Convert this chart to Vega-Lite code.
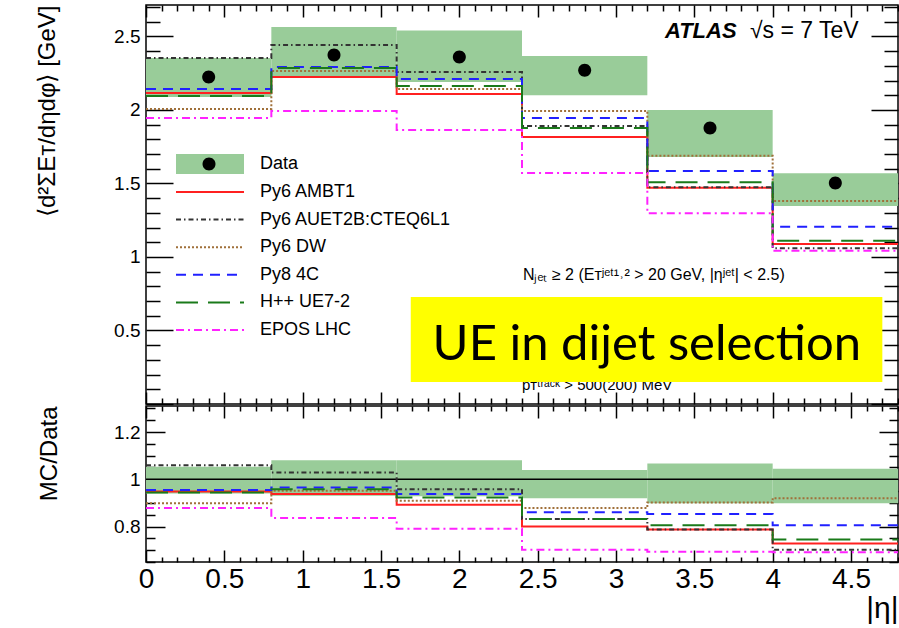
{
  "$schema": "https://vega.github.io/schema/vega-lite/v6.json",
  "padding": {"left": 34, "top": 3, "right": 0, "bottom": 0},
  "config": {
    "view": {"stroke": "black", "strokeWidth": 1.5},
    "axis": {"domain": false, "grid": false, "tickColor": "black", "tickWidth": 1.5, "labelFont": "Liberation Sans", "titleFont": "Liberation Sans", "labelColor": "black", "titleColor": "black", "titleFontWeight": "normal", "labelFlush": false, "labelOverlap": false},
    "legend": {"padding": 0, "labelFont": "Liberation Sans", "labelFontSize": 18, "labelColor": "black", "labelLimit": 0}
  },
  "datasets": {
    "band": [
      {"lo": 0.0, "hi": 0.8, "x": 0.4, "y": 2.224, "top": 2.354, "bot": 2.088, "rtop": 1.053, "rbot": 0.94},
      {"lo": 0.8, "hi": 1.6, "x": 1.2, "y": 2.374, "top": 2.565, "bot": 2.222, "rtop": 1.081, "rbot": 0.93},
      {"lo": 1.6, "hi": 2.4, "x": 2.0, "y": 2.36, "top": 2.54, "bot": 2.19, "rtop": 1.081, "rbot": 0.928},
      {"lo": 2.4, "hi": 3.2, "x": 2.8, "y": 2.27, "top": 2.367, "bot": 2.10, "rtop": 1.039, "rbot": 0.92},
      {"lo": 3.2, "hi": 4.0, "x": 3.6, "y": 1.878, "top": 2.0, "bot": 1.68, "rtop": 1.067, "rbot": 0.899},
      {"lo": 4.0, "hi": 4.8, "x": 4.4, "y": 1.503, "top": 1.569, "bot": 1.347, "rtop": 1.044, "rbot": 0.899}
    ],
    "mc": [
      {"m": "Py6 AMBT1", "lo": 0.0, "hi": 0.8, "v": 2.116, "r": 0.948},
      {"m": "Py6 AMBT1", "lo": 0.8, "hi": 1.6, "v": 2.224, "r": 0.938},
      {"m": "Py6 AMBT1", "lo": 1.6, "hi": 2.4, "v": 2.109, "r": 0.892},
      {"m": "Py6 AMBT1", "lo": 2.4, "hi": 3.2, "v": 1.816, "r": 0.80},
      {"m": "Py6 AMBT1", "lo": 3.2, "hi": 4.0, "v": 1.471, "r": 0.787},
      {"m": "Py6 AMBT1", "lo": 4.0, "hi": 4.8, "v": 1.088, "r": 0.728},
      {"m": "Py6 AUET2B:CTEQ6L1", "lo": 0.0, "hi": 0.8, "v": 2.354, "r": 1.059},
      {"m": "Py6 AUET2B:CTEQ6L1", "lo": 0.8, "hi": 1.6, "v": 2.442, "r": 1.029},
      {"m": "Py6 AUET2B:CTEQ6L1", "lo": 1.6, "hi": 2.4, "v": 2.259, "r": 0.958},
      {"m": "Py6 AUET2B:CTEQ6L1", "lo": 2.4, "hi": 3.2, "v": 1.891, "r": 0.832},
      {"m": "Py6 AUET2B:CTEQ6L1", "lo": 3.2, "hi": 4.0, "v": 1.475, "r": 0.787},
      {"m": "Py6 AUET2B:CTEQ6L1", "lo": 4.0, "hi": 4.8, "v": 1.06, "r": 0.702},
      {"m": "Py6 DW", "lo": 0.0, "hi": 0.8, "v": 2.007, "r": 0.899},
      {"m": "Py6 DW", "lo": 0.8, "hi": 1.6, "v": 2.265, "r": 0.951},
      {"m": "Py6 DW", "lo": 1.6, "hi": 2.4, "v": 2.143, "r": 0.909},
      {"m": "Py6 DW", "lo": 2.4, "hi": 3.2, "v": 1.993, "r": 0.878},
      {"m": "Py6 DW", "lo": 3.2, "hi": 4.0, "v": 1.689, "r": 0.902},
      {"m": "Py6 DW", "lo": 4.0, "hi": 4.8, "v": 1.381, "r": 0.92},
      {"m": "Py8 4C", "lo": 0.0, "hi": 0.8, "v": 2.143, "r": 0.955},
      {"m": "Py8 4C", "lo": 0.8, "hi": 1.6, "v": 2.293, "r": 0.965},
      {"m": "Py8 4C", "lo": 1.6, "hi": 2.4, "v": 2.211, "r": 0.938},
      {"m": "Py8 4C", "lo": 2.4, "hi": 3.2, "v": 1.946, "r": 0.86},
      {"m": "Py8 4C", "lo": 3.2, "hi": 4.0, "v": 1.585, "r": 0.853},
      {"m": "Py8 4C", "lo": 4.0, "hi": 4.8, "v": 1.206, "r": 0.805},
      {"m": "H++ UE7-2", "lo": 0.0, "hi": 0.8, "v": 2.095, "r": 0.944},
      {"m": "H++ UE7-2", "lo": 0.8, "hi": 1.6, "v": 2.286, "r": 0.958},
      {"m": "H++ UE7-2", "lo": 1.6, "hi": 2.4, "v": 2.163, "r": 0.923},
      {"m": "H++ UE7-2", "lo": 2.4, "hi": 3.2, "v": 1.878, "r": 0.832},
      {"m": "H++ UE7-2", "lo": 3.2, "hi": 4.0, "v": 1.508, "r": 0.805},
      {"m": "H++ UE7-2", "lo": 4.0, "hi": 4.8, "v": 1.111, "r": 0.745},
      {"m": "EPOS LHC", "lo": 0.0, "hi": 0.8, "v": 1.946, "r": 0.878},
      {"m": "EPOS LHC", "lo": 0.8, "hi": 1.6, "v": 1.993, "r": 0.836},
      {"m": "EPOS LHC", "lo": 1.6, "hi": 2.4, "v": 1.864, "r": 0.791},
      {"m": "EPOS LHC", "lo": 2.4, "hi": 3.2, "v": 1.571, "r": 0.702},
      {"m": "EPOS LHC", "lo": 3.2, "hi": 4.0, "v": 1.297, "r": 0.693},
      {"m": "EPOS LHC", "lo": 4.0, "hi": 4.8, "v": 1.043, "r": 0.691}
    ]
  },
  "spacing": -16,
  "resolve": {"scale": {"color": "independent", "strokeDash": "independent"}},
  "vconcat": [
    {
      "width": 752,
      "height": 399,
      "resolve": {"axis": {"x": "independent", "y": "independent"}},
      "layer": [
        {
          "data": {"name": "band"},
          "mark": {"type": "rect"},
          "encoding": {
            "x": {"field": "lo", "type": "quantitative", "scale": {"domain": [0, 4.8], "nice": false, "zero": false},
              "axis": {"orient": "bottom", "values": [0,0.1,0.2,0.3,0.4,0.5,0.6,0.7,0.8,0.9,1,1.1,1.2,1.3,1.4,1.5,1.6,1.7,1.8,1.9,2,2.1,2.2,2.3,2.4,2.5,2.6,2.7,2.8,2.9,3,3.1,3.2,3.3,3.4,3.5,3.6,3.7,3.8,3.9,4,4.1,4.2,4.3,4.4,4.5,4.6,4.7,4.8], "labels": false, "title": null,
                "tickSize": {"condition": {"test": "abs(datum.value*2-round(datum.value*2))<0.001", "value": -12}, "value": -6}}},
            "x2": {"field": "hi"},
            "y": {"field": "bot", "type": "quantitative", "scale": {"domain": [0, 2.714], "nice": false, "zero": false},
              "axis": {"orient": "left", "values": [0,0.1,0.2,0.3,0.4,0.5,0.6,0.7,0.8,0.9,1,1.1,1.2,1.3,1.4,1.5,1.6,1.7,1.8,1.9,2,2.1,2.2,2.3,2.4,2.5,2.6,2.7],
                "labelExpr": "abs(datum.value*2-round(datum.value*2))<0.001 && datum.value>0.01 ? format(datum.value,'~g') : ''",
                "labelFontSize": {"condition": {"test": "abs(datum.value*2-round(datum.value*2))<0.001 && datum.value>0.01", "value": 19}, "value": 0},
                "labelPadding": 33,
                "tickSize": {"condition": {"test": "abs(datum.value*2-round(datum.value*2))<0.001", "value": -27}, "value": -14},
                "title": "⟨d²ΣEᴛ/dηdφ⟩ [GeV]", "titleFontSize": 24, "titleAnchor": "end", "titlePadding": 54}},
            "y2": {"field": "top"},
            "fill": {"datum": "Data", "type": "nominal", "scale": {"domain": ["Data"], "range": ["#99cc99"]},
              "legend": {"orient": "none", "legendX": 55, "legendY": 150, "title": null, "symbolType": "M-13.6,-4H13.6V4H-13.6Z", "symbolSize": 25, "symbolStrokeWidth": 0, "labelOffset": 41}}
          }
        },
        {
          "data": {"name": "mc"},
          "transform": [{"fold": ["lo", "hi"], "as": ["edge", "xe"]}],
          "mark": {"type": "line", "strokeWidth": 2},
          "encoding": {
            "x": {"field": "xe", "type": "quantitative",
              "axis": {"orient": "top", "values": [0,0.1,0.2,0.3,0.4,0.5,0.6,0.7,0.8,0.9,1,1.1,1.2,1.3,1.4,1.5,1.6,1.7,1.8,1.9,2,2.1,2.2,2.3,2.4,2.5,2.6,2.7,2.8,2.9,3,3.1,3.2,3.3,3.4,3.5,3.6,3.7,3.8,3.9,4,4.1,4.2,4.3,4.4,4.5,4.6,4.7,4.8], "labels": false, "title": null,
                "tickSize": {"condition": {"test": "abs(datum.value*2-round(datum.value*2))<0.001", "value": -12}, "value": -6}}},
            "y": {"field": "v", "type": "quantitative",
              "axis": {"orient": "right", "values": [0,0.1,0.2,0.3,0.4,0.5,0.6,0.7,0.8,0.9,1,1.1,1.2,1.3,1.4,1.5,1.6,1.7,1.8,1.9,2,2.1,2.2,2.3,2.4,2.5,2.6,2.7], "labels": false, "title": null,
                "tickSize": {"condition": {"test": "abs(datum.value*2-round(datum.value*2))<0.001", "value": -27}, "value": -14}}},
            "color": {"field": "m", "type": "nominal",
              "scale": {"domain": ["Py6 AMBT1", "Py6 AUET2B:CTEQ6L1", "Py6 DW", "Py8 4C", "H++ UE7-2", "EPOS LHC"], "range": ["#ff2020", "#333333", "#a0703a", "#2020ff", "#1a7a1a", "#ff22ff"]},
              "legend": {"orient": "none", "legendX": 55, "legendY": 178, "title": null, "symbolType": "M-13.6,0H13.6", "symbolSize": 25, "symbolStrokeWidth": 2, "labelOffset": 41, "rowPadding": 9.6}},
            "strokeDash": {"field": "m", "type": "nominal",
              "scale": {"domain": ["Py6 AMBT1", "Py6 AUET2B:CTEQ6L1", "Py6 DW", "Py8 4C", "H++ UE7-2", "EPOS LHC"], "range": [[1, 0], [5, 3, 1.5, 3], [2, 2], [10, 7], [22, 10], [8, 4, 2, 4]]},
              "legend": {"orient": "none", "legendX": 55, "legendY": 178, "title": null, "symbolType": "M-13.6,0H13.6", "symbolSize": 25, "symbolStrokeWidth": 2, "labelOffset": 41, "rowPadding": 9.6}},
            "order": [{"field": "lo", "type": "quantitative", "sort": "ascending"}, {"field": "edge", "type": "nominal", "sort": "descending"}]
          }
        },
        {
          "data": {"name": "band"},
          "mark": {"type": "point", "filled": true, "color": "black", "opacity": 1, "size": 25},
          "encoding": {
            "x": {"field": "x", "type": "quantitative", "axis": null},
            "y": {"field": "y", "type": "quantitative", "axis": null},
            "shape": {"datum": "Data points", "type": "nominal", "scale": {"domain": ["Data points"], "range": ["M-2.6,0a2.6,2.6 0 1,0 5.2,0a2.6,2.6 0 1,0 -5.2,0Z"]},
              "legend": {"orient": "none", "legendX": 54, "legendY": 150, "title": null, "symbolSize": 25, "symbolFillColor": "black", "symbolStrokeColor": "black", "symbolStrokeWidth": 0, "labelOffset": 41, "labelExpr": "''"}}
          }
        },
        {
          "data": {"values": [{}]},
          "mark": {"type": "text", "text": "ATLAS", "font": "Liberation Sans", "fontSize": 22, "fontWeight": "bold", "fontStyle": "italic", "align": "right", "baseline": "alphabetic"},
          "encoding": {"x": {"datum": 3.77, "type": "quantitative", "axis": null}, "y": {"datum": 2.49, "type": "quantitative", "axis": null}}
        },
        {
          "data": {"values": [{}]},
          "mark": {"type": "text", "text": "√s = 7 TeV", "font": "Liberation Sans", "fontSize": 23, "align": "left", "baseline": "alphabetic"},
          "encoding": {"x": {"datum": 3.855, "type": "quantitative", "axis": null}, "y": {"datum": 2.49, "type": "quantitative", "axis": null}}
        },
        {
          "data": {"values": [{}]},
          "mark": {"type": "text", "text": "Nⱼₑₜ ≥ 2 (Eᴛʲᵉᵗ¹˒² > 20 GeV, |ηʲᵉᵗ| < 2.5)", "font": "Liberation Sans", "fontSize": 16, "align": "left", "baseline": "middle"},
          "encoding": {"x": {"datum": 2.406, "type": "quantitative", "axis": null}, "y": {"datum": 0.878, "type": "quantitative", "axis": null}}
        },
        {
          "data": {"values": [{}]},
          "mark": {"type": "text", "text": "pᴛᵗʳᵃᶜᵏ > 500(200) MeV", "font": "Liberation Sans", "fontSize": 15, "align": "left", "baseline": "alphabetic"},
          "encoding": {"x": {"datum": 2.4, "type": "quantitative", "axis": null}, "y": {"datum": 0.095, "type": "quantitative", "axis": null}}
        },
        {
          "data": {"values": [{}]},
          "mark": {"type": "rect", "color": "#ffff00", "opacity": 1},
          "encoding": {"x": {"datum": 1.69, "type": "quantitative", "axis": null}, "x2": {"datum": 4.70}, "y": {"datum": 0.728, "type": "quantitative", "axis": null}, "y2": {"datum": 0.150}}
        },
        {
          "data": {"values": [{}]},
          "mark": {"type": "text", "text": "UE in dijet selection", "font": "Lato", "fontSize": 49, "align": "center", "baseline": "alphabetic", "color": "black"},
          "encoding": {"x": {"datum": 3.197, "type": "quantitative", "axis": null}, "y": {"datum": 0.299, "type": "quantitative", "axis": null}}
        }
      ]
    },
    {
      "width": 752,
      "height": 156,
      "resolve": {"axis": {"x": "independent", "y": "independent"}},
      "layer": [
        {
          "data": {"name": "band"},
          "mark": {"type": "rect", "color": "#99cc99"},
          "encoding": {
            "x": {"field": "lo", "type": "quantitative", "scale": {"domain": [0, 4.8], "nice": false, "zero": false},
              "axis": {"orient": "bottom", "values": [0,0.1,0.2,0.3,0.4,0.5,0.6,0.7,0.8,0.9,1,1.1,1.2,1.3,1.4,1.5,1.6,1.7,1.8,1.9,2,2.1,2.2,2.3,2.4,2.5,2.6,2.7,2.8,2.9,3,3.1,3.2,3.3,3.4,3.5,3.6,3.7,3.8,3.9,4,4.1,4.2,4.3,4.4,4.5,4.6,4.7,4.8],
                "labelExpr": "abs(datum.value*2-round(datum.value*2))<0.001 ? format(datum.value,'~g') : ''",
                "labelFontSize": {"condition": {"test": "abs(datum.value*2-round(datum.value*2))<0.001", "value": 28}, "value": 0},
                "labelPadding": 15,
                "tickSize": {"condition": {"test": "abs(datum.value*2-round(datum.value*2))<0.001", "value": -12}, "value": -5},
                "title": "|η|", "titleFontSize": 30, "titleAnchor": "end", "titlePadding": 0}},
            "x2": {"field": "hi"},
            "y": {"field": "rbot", "type": "quantitative", "scale": {"domain": [0.65, 1.31], "nice": false, "zero": false},
              "axis": {"orient": "left", "values": [0.65,0.7,0.75,0.8,0.85,0.9,0.95,1,1.05,1.1,1.15,1.2,1.25,1.3],
                "labelExpr": "abs(datum.value*5-round(datum.value*5))<0.001 ? format(datum.value,'~g') : ''",
                "labelFontSize": {"condition": {"test": "abs(datum.value*5-round(datum.value*5))<0.001", "value": 19}, "value": 0},
                "labelPadding": 25,
                "tickSize": {"condition": {"test": "abs(datum.value*5-round(datum.value*5))<0.001", "value": -19}, "value": -9},
                "title": "MC/Data", "titleFontSize": 24, "titleAnchor": "end", "titlePadding": 52}},
            "y2": {"field": "rtop"}
          }
        },
        {
          "data": {"values": [{}]},
          "mark": {"type": "rule", "color": "black", "strokeWidth": 1.5},
          "encoding": {"y": {"datum": 1, "type": "quantitative", "axis": null}}
        },
        {
          "data": {"name": "mc"},
          "transform": [{"fold": ["lo", "hi"], "as": ["edge", "xe"]}],
          "mark": {"type": "line", "strokeWidth": 2},
          "encoding": {
            "x": {"field": "xe", "type": "quantitative",
              "axis": {"orient": "top", "values": [0,0.1,0.2,0.3,0.4,0.5,0.6,0.7,0.8,0.9,1,1.1,1.2,1.3,1.4,1.5,1.6,1.7,1.8,1.9,2,2.1,2.2,2.3,2.4,2.5,2.6,2.7,2.8,2.9,3,3.1,3.2,3.3,3.4,3.5,3.6,3.7,3.8,3.9,4,4.1,4.2,4.3,4.4,4.5,4.6,4.7,4.8], "labels": false, "title": null,
                "tickSize": {"condition": {"test": "abs(datum.value*2-round(datum.value*2))<0.001", "value": -12}, "value": -5}}},
            "y": {"field": "r", "type": "quantitative",
              "axis": {"orient": "right", "values": [0.65,0.7,0.75,0.8,0.85,0.9,0.95,1,1.05,1.1,1.15,1.2,1.25,1.3], "labels": false, "title": null,
                "tickSize": {"condition": {"test": "abs(datum.value*5-round(datum.value*5))<0.001", "value": -19}, "value": -9}}},
            "color": {"field": "m", "type": "nominal",
              "scale": {"domain": ["Py6 AMBT1", "Py6 AUET2B:CTEQ6L1", "Py6 DW", "Py8 4C", "H++ UE7-2", "EPOS LHC"], "range": ["#ff2020", "#333333", "#a0703a", "#2020ff", "#1a7a1a", "#ff22ff"]},
              "legend": null},
            "strokeDash": {"field": "m", "type": "nominal",
              "scale": {"domain": ["Py6 AMBT1", "Py6 AUET2B:CTEQ6L1", "Py6 DW", "Py8 4C", "H++ UE7-2", "EPOS LHC"], "range": [[1, 0], [5, 3, 1.5, 3], [2, 2], [10, 7], [22, 10], [8, 4, 2, 4]]},
              "legend": null},
            "order": [{"field": "lo", "type": "quantitative", "sort": "ascending"}, {"field": "edge", "type": "nominal", "sort": "descending"}]
          }
        }
      ]
    }
  ]
}
